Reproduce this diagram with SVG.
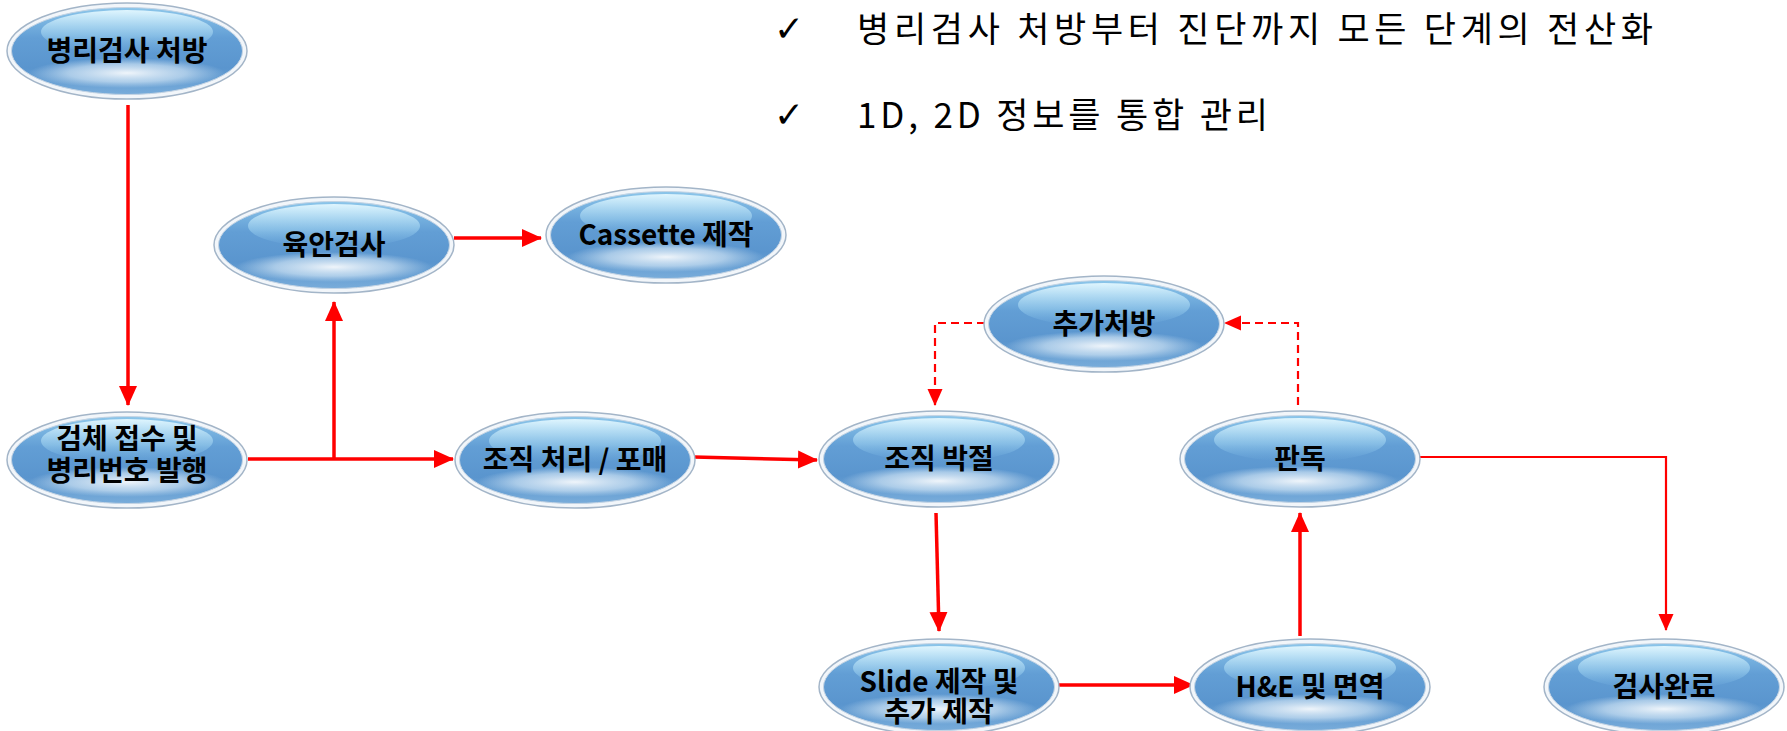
<svg xmlns="http://www.w3.org/2000/svg" xmlns:xlink="http://www.w3.org/1999/xlink" width="1787" height="731" viewBox="0 0 1787 731">
<style>
.lbl{font-family:"Noto Sans CJK KR","Noto Sans",sans-serif;font-weight:700;font-size:28px;fill:#000;text-anchor:middle}
.note{font-family:"Noto Sans CJK KR","Noto Sans",sans-serif;font-weight:400;font-size:35px;fill:#000}
.chk{font-family:"DejaVu Sans",sans-serif;font-size:36px;fill:#000}
.c{fill:none;stroke:#ff0000;stroke-width:3.5}
.thin{stroke-width:2.2}
.dash{stroke-width:2.2;stroke-dasharray:8 5}
</style>
<defs>
<linearGradient id="gBody" x1="0" y1="0" x2="0" y2="1">
<stop offset="0" stop-color="#8cc6ea"/>
<stop offset="0.35" stop-color="#629ed5"/>
<stop offset="0.7" stop-color="#5a95ce"/>
<stop offset="1" stop-color="#78acda"/>
</linearGradient>
<linearGradient id="gTop" x1="0" y1="0" x2="0" y2="1">
<stop offset="0" stop-color="#e4f8ff" stop-opacity="0.95"/>
<stop offset="0.6" stop-color="#a5d8f3" stop-opacity="0.5"/>
<stop offset="1" stop-color="#7ab8e6" stop-opacity="0"/>
</linearGradient>
<radialGradient id="gBot" cx="0.5" cy="0.5" r="0.5">
<stop offset="0" stop-color="#ffffff" stop-opacity="0.9"/>
<stop offset="0.6" stop-color="#dcecf8" stop-opacity="0.6"/>
<stop offset="1" stop-color="#cfe3f3" stop-opacity="0"/>
</radialGradient>
<g id="bubble">
<ellipse rx="120" ry="48" fill="#f2f6fa" stroke="#a3b5c8" stroke-width="1.5"/>
<ellipse rx="115.5" ry="43.5" fill="url(#gBody)" stroke="#c4d4e4" stroke-width="1"/>
<ellipse cx="0" cy="-19" rx="86" ry="22" fill="url(#gTop)"/>
<ellipse cx="0" cy="22" rx="98" ry="15" fill="url(#gBot)"/>
</g>
<marker id="ah" markerUnits="userSpaceOnUse" markerWidth="20" markerHeight="20" viewBox="0 0 20 20" refX="19" refY="10" orient="auto">
<path d="M0,1 L20,10 L0,19 Z" fill="#ff0000"/>
</marker>
<marker id="ahs" markerUnits="userSpaceOnUse" markerWidth="17" markerHeight="17" viewBox="0 0 17 17" refX="16" refY="8.5" orient="auto">
<path d="M0,1 L17,8.5 L0,16 Z" fill="#ff0000"/>
</marker>
</defs>
<rect width="1787" height="731" fill="#ffffff"/>

<g id="notes">
<text class="chk" x="774" y="41">✓</text>
<text class="note" x="857" y="42" textLength="796" lengthAdjust="spacing">병리검사 처방부터 진단까지 모든 단계의 전산화</text>
<text class="chk" x="774" y="127">✓</text>
<text class="note" x="857" y="128" textLength="411" lengthAdjust="spacing">1D, 2D 정보를 통합 관리</text>
</g>

<g id="connectors">
<path class="c" d="M128,105 V405" marker-end="url(#ah)"/>
<path class="c" d="M248,459 H453" marker-end="url(#ah)"/>
<path class="c" d="M334,459 V302" marker-end="url(#ah)"/>
<path class="c" d="M454,238 H541" marker-end="url(#ah)"/>
<path class="c" d="M694,457 L817,460" marker-end="url(#ah)"/>
<path class="c" d="M936,513 L939,631" marker-end="url(#ah)"/>
<path class="c" d="M1058,685 H1193" marker-end="url(#ah)"/>
<path class="c" d="M1300,636 V513" marker-end="url(#ah)"/>
<path class="c thin" d="M1419,457 H1666 V630" marker-end="url(#ahs)"/>
<path class="c dash" d="M1298,405 V323 H1225" marker-end="url(#ahs)"/>
<path class="c dash" d="M985,323 H935 V405" marker-end="url(#ahs)"/>
</g>

<g id="n1" transform="translate(127,51)"><use xlink:href="#bubble"/><text class="lbl" x="0" y="10">병리검사 처방</text></g>
<g id="n2" transform="translate(127,460)"><use xlink:href="#bubble"/><text class="lbl" x="0" y="-11">검체 접수 및</text><text class="lbl" x="0" y="21">병리번호 발행</text></g>
<g id="n3" transform="translate(334,245)"><use xlink:href="#bubble"/><text class="lbl" x="0" y="10">육안검사</text></g>
<g id="n4" transform="translate(666,235)"><use xlink:href="#bubble"/><text class="lbl" x="0" y="10">Cassette 제작</text></g>
<g id="n5" transform="translate(575,460)"><use xlink:href="#bubble"/><text class="lbl" x="0" y="10">조직 처리 / 포매</text></g>
<g id="n6" transform="translate(939,459)"><use xlink:href="#bubble"/><text class="lbl" x="0" y="10">조직 박절</text></g>
<g id="n7" transform="translate(1104,324)"><use xlink:href="#bubble"/><text class="lbl" x="0" y="10">추가처방</text></g>
<g id="n8" transform="translate(1300,459)"><use xlink:href="#bubble"/><text class="lbl" x="0" y="10">판독</text></g>
<g id="n9" transform="translate(939,687)"><use xlink:href="#bubble"/><text class="lbl" x="0" y="5">Slide 제작 및</text><text class="lbl" x="0" y="35">추가 제작</text></g>
<g id="n10" transform="translate(1310,687)"><use xlink:href="#bubble"/><text class="lbl" x="0" y="10">H&amp;E 및 면역</text></g>
<g id="n11" transform="translate(1664,687)"><use xlink:href="#bubble"/><text class="lbl" x="0" y="10">검사완료</text></g>
</svg>
